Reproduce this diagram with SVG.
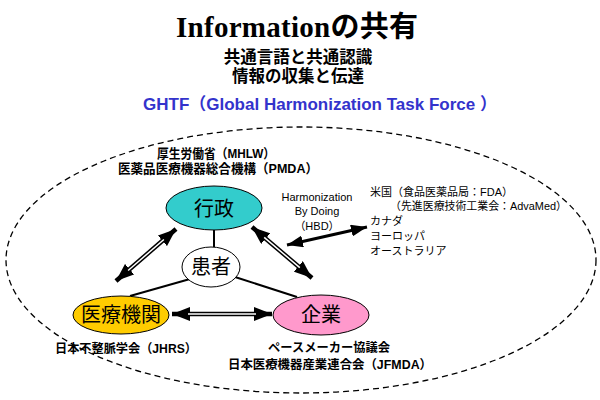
<svg xmlns="http://www.w3.org/2000/svg" width="600" height="400" viewBox="0 0 600 400">
<style>
.t{font-family:"Liberation Sans","Noto Sans CJK JP",sans-serif;fill:#000}
.b{font-weight:bold}
.n{stroke:#000;stroke-width:1}
.lab{font-size:20px;text-anchor:middle}
.sm{font-size:11px}
.mid{text-anchor:middle}
</style>
<defs>
<marker id="ah" viewBox="0 0 18 14" refX="18" refY="7" markerWidth="18" markerHeight="14" markerUnits="userSpaceOnUse" orient="auto-start-reverse"><path d="M0,0 L18,7 L0,14 z" fill="#000"/></marker>
<marker id="ah2" viewBox="0 0 16 12" refX="16" refY="6" markerWidth="16" markerHeight="12" markerUnits="userSpaceOnUse" orient="auto-start-reverse"><path d="M0,0 L16,6 L0,12 z" fill="#000"/></marker>
</defs>
<rect width="600" height="400" fill="#fff"/>
<text x="297" y="37" text-anchor="middle" font-size="29" font-weight="bold" font-family="'Liberation Serif','Noto Sans CJK JP',serif" textLength="242">Information<tspan font-family="'Noto Sans CJK JP',sans-serif">の共有</tspan></text>
<text class="t b mid" x="298" y="63" font-size="16.5">共通言語と共通認識</text>
<text class="t b mid" x="298" y="82" font-size="16.5">情報の収集と伝達</text>
<text class="t b" x="143" y="110" font-size="17" style="fill:#3333cc" textLength="354" lengthAdjust="spacingAndGlyphs">GHTF（Global Harmonization Task Force ）</text>
<ellipse cx="301" cy="260" rx="295" ry="133" fill="none" stroke="#000" stroke-width="1.3" stroke-dasharray="6,4"/>
<g id="connectors">
<line x1="214" y1="230" x2="214" y2="247" stroke="#000" stroke-width="2"/>
<line x1="190" y1="279" x2="130" y2="296" stroke="#000" stroke-width="2"/>
<line x1="235" y1="277" x2="297" y2="297" stroke="#000" stroke-width="2"/>
<line x1="176" y1="229" x2="116" y2="281" stroke="#000" stroke-width="4.5" marker-start="url(#ah)" marker-end="url(#ah)"/>
<line x1="163.9" y1="239.5" x2="128.1" y2="270.5" stroke="#fff" stroke-width="1.5"/>
<line x1="252" y1="227" x2="312" y2="278" stroke="#000" stroke-width="4.5" marker-start="url(#ah)" marker-end="url(#ah)"/>
<line x1="264.2" y1="237.4" x2="299.8" y2="267.6" stroke="#fff" stroke-width="1.5"/>
<line x1="172" y1="314" x2="272" y2="314" stroke="#000" stroke-width="4.5" marker-start="url(#ah)" marker-end="url(#ah)"/>
<line x1="188" y1="314" x2="256" y2="314" stroke="#fff" stroke-width="1.5"/>
<line x1="287" y1="245" x2="367" y2="227" stroke="#000" stroke-width="3" marker-start="url(#ah2)" marker-end="url(#ah2)"/>
</g>
<g id="gyosei"><ellipse class="n" cx="214" cy="208" rx="48" ry="22" fill="#33cccc"/><text class="t lab" x="214" y="216" font-size="21">行政</text></g>
<g id="kanja"><ellipse class="n" cx="211" cy="267" rx="29" ry="20" fill="#fff"/><text class="t lab" x="211" y="274">患者</text></g>
<g id="iryokikan"><ellipse class="n" cx="121" cy="315" rx="48" ry="19" fill="#ffcc00"/><text class="t lab" x="121" y="322">医療機関</text></g>
<g id="kigyo"><ellipse class="n" cx="321" cy="315" rx="48" ry="20" fill="#ff99cc"/><text class="t lab" x="321" y="322">企業</text></g>
<text class="t b" x="157" y="158" font-size="13" textLength="118" lengthAdjust="spacingAndGlyphs">厚生労働省（MHLW）</text>
<text class="t b" x="118" y="173" font-size="13" textLength="200" lengthAdjust="spacingAndGlyphs">医薬品医療機器総合機構（PMDA）</text>
<text class="t sm mid" x="317" y="201" fill="#333">Harmonization</text>
<text class="t sm mid" x="317" y="215">By Doing</text>
<text class="t sm mid" x="317" y="230">（HBD）</text>
<text class="t sm" x="370" y="196">米国（食品医薬品局：FDA）</text>
<text class="t sm" x="390" y="210" textLength="177" lengthAdjust="spacingAndGlyphs">（先進医療技術工業会：AdvaMed）</text>
<text class="t sm" x="370" y="225">カナダ</text>
<text class="t sm" x="370" y="240">ヨーロッパ</text>
<text class="t sm" x="370" y="255">オーストラリア</text>
<text class="t b" x="55" y="353" font-size="12.5" textLength="142" lengthAdjust="spacingAndGlyphs">日本不整脈学会（JHRS）</text>
<text class="t b" x="268" y="352" font-size="12.5" textLength="122" lengthAdjust="spacingAndGlyphs">ペースメーカー協議会</text>
<text class="t b" x="228" y="369" font-size="12.5" textLength="204" lengthAdjust="spacingAndGlyphs">日本医療機器産業連合会（JFMDA）</text>
</svg>
